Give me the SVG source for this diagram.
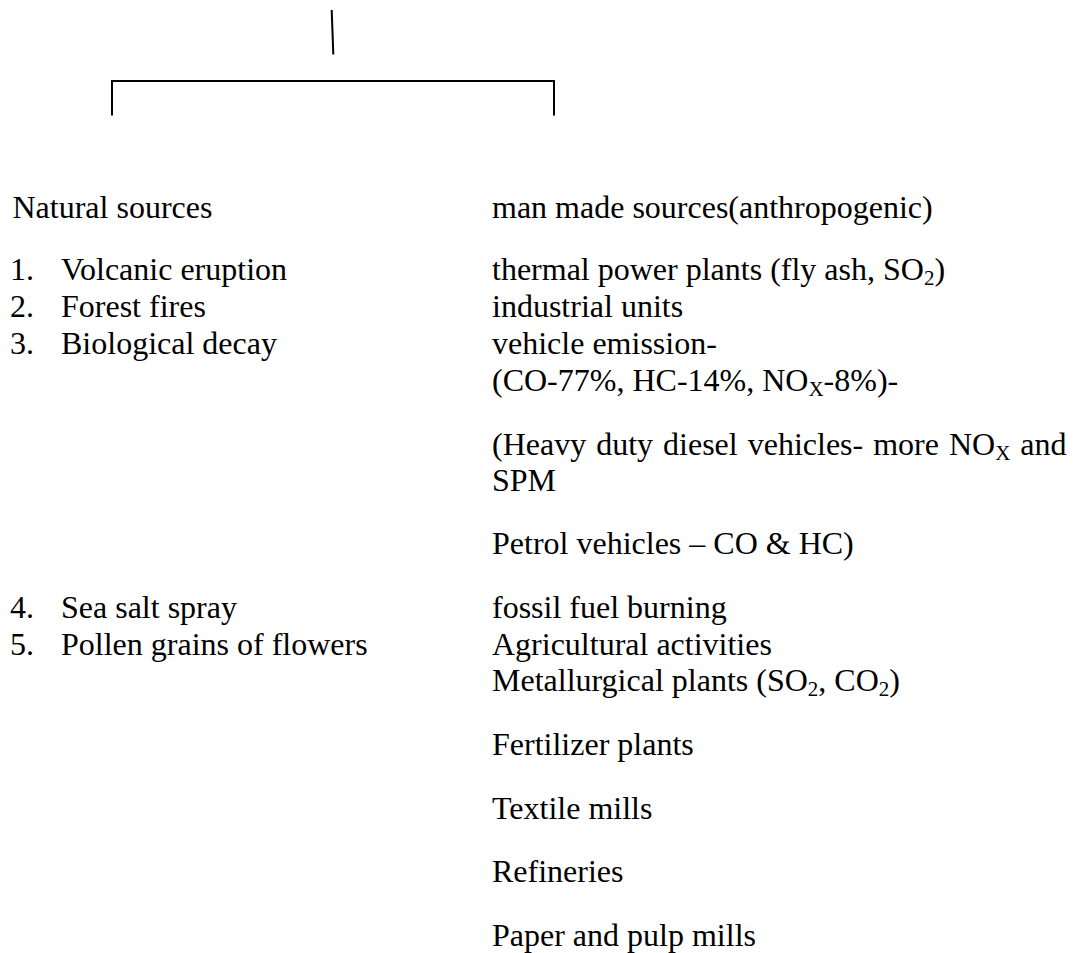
<svg xmlns="http://www.w3.org/2000/svg" width="1073" height="953" viewBox="0 0 1073 953">
<style>
  text { font-family: "Liberation Serif", "Times New Roman", serif; font-size: 32px; fill: #000; }
  .sub { font-size: 21px; }
  .conn { stroke: #000; stroke-width: 2; fill: none; }
</style>
<rect width="1073" height="953" fill="#fff"/>
<g id="connectors">
  <line class="conn" x1="331.7" y1="10" x2="333.3" y2="54.5"/>
  <polyline class="conn" points="112,115.5 112,81 554,81 554,115.5"/>
</g>
<g id="natural-sources">
  <text x="12.5" y="218">Natural sources</text>
  <text x="10" y="280">1.</text><text x="61" y="280">Volcanic eruption</text>
  <text x="10" y="317">2.</text><text x="61" y="317">Forest fires</text>
  <text x="10" y="354">3.</text><text x="61" y="354">Biological decay</text>
  <text x="10" y="618">4.</text><text x="61" y="618">Sea salt spray</text>
  <text x="10" y="655">5.</text><text x="61" y="655">Pollen grains of flowers</text>
</g>
<g id="man-made-sources">
  <text x="492" y="218">man made sources(anthropogenic)</text>
  <text x="492" y="280">thermal power plants (fly ash, SO<tspan class="sub" dy="5">2</tspan><tspan dy="-5">)</tspan></text>
  <text x="492" y="317">industrial units</text>
  <text x="492" y="354">vehicle emission-</text>
  <text x="492" y="391">(CO-77%, HC-14%, NO<tspan class="sub" dy="5">X</tspan><tspan dy="-5">-8%)-</tspan></text>
  <text x="492" y="455" word-spacing="2">(Heavy duty diesel vehicles- more NO<tspan class="sub" dy="5">X</tspan><tspan dy="-5"> and</tspan></text>
  <text x="492" y="491">SPM</text>
  <text x="492" y="554">Petrol vehicles – CO &amp; HC)</text>
  <text x="492" y="618">fossil fuel burning</text>
  <text x="492" y="655">Agricultural activities</text>
  <text x="492" y="691">Metallurgical plants (SO<tspan class="sub" dy="5">2</tspan><tspan dy="-5">, CO</tspan><tspan class="sub" dy="5">2</tspan><tspan dy="-5">)</tspan></text>
  <text x="492" y="755">Fertilizer plants</text>
  <text x="492" y="819">Textile mills</text>
  <text x="492" y="882">Refineries</text>
  <text x="492" y="946">Paper and pulp mills</text>
</g>
</svg>
